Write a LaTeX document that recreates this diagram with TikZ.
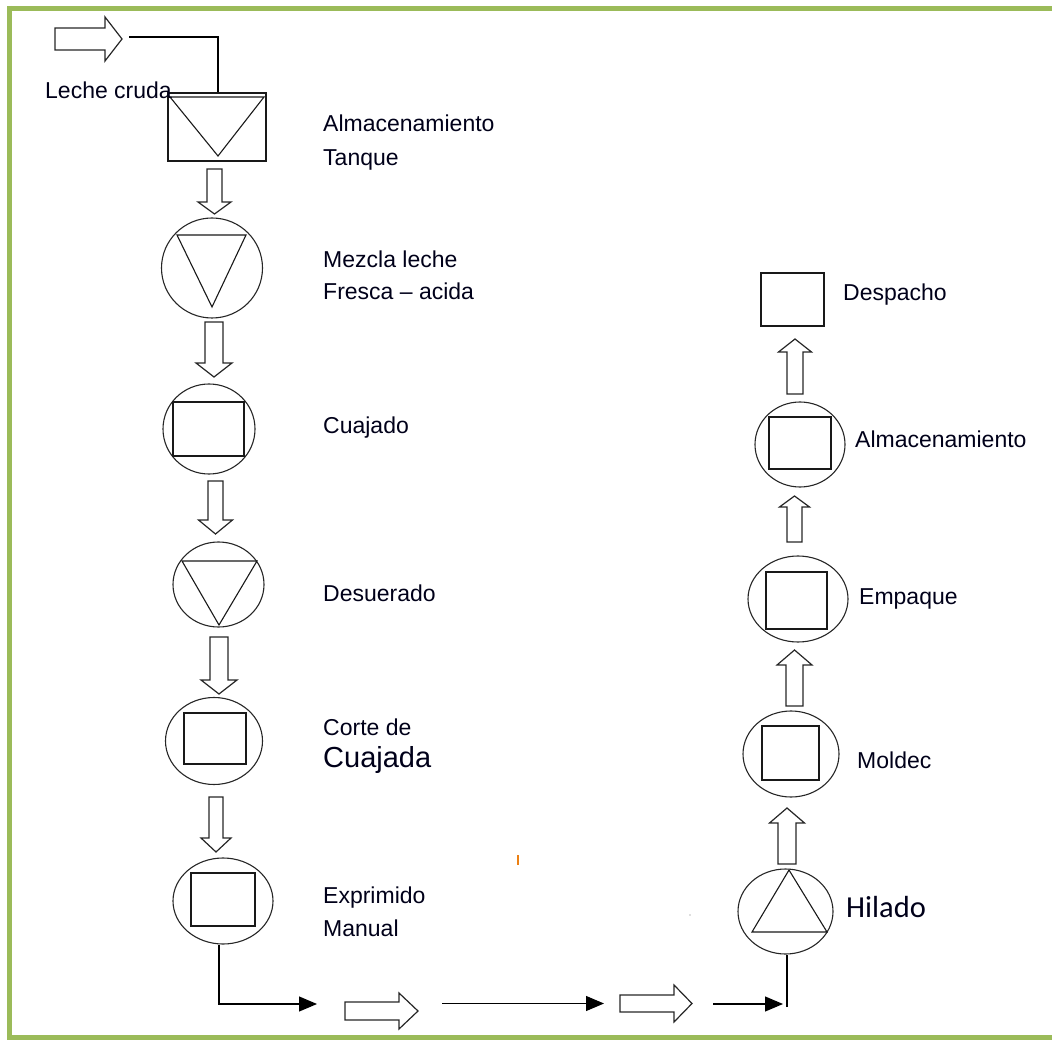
\documentclass[tikz,border=0pt]{standalone}
\usepackage{fontspec}
\setmainfont{Liberation Sans}
\newfontfamily\calib{Carlito}
\usetikzlibrary{shapes.geometric,arrows.meta}
\definecolor{framegreen}{HTML}{9BBB59}
\newcommand\hvarrow[6]{% x, base, headstart, tip, bodyhalf, headhalf
  \draw[harrow] (#1-#5,#2) -- (#1+#5,#2) -- (#1+#5,#3) -- (#1+#6,#3) -- (#1,#4) -- (#1-#6,#3) -- (#1-#5,#3) -- cycle;}
\newcommand\hharrow[6]{% y, base, headstart, tip, bodyhalf, headhalf
  \draw[harrow] (#2,#1-#5) -- (#2,#1+#5) -- (#3,#1+#5) -- (#3,#1+#6) -- (#4,#1) -- (#3,#1-#6) -- (#3,#1-#5) -- cycle;}
\tikzset{
  harrow/.style={draw=black!85, line width=1.2pt, line join=miter},
  oval/.style={ellipse, draw=black!85, line width=1.1pt, inner sep=0pt},
  boxnode/.style={rectangle, draw=black!90, line width=1.1pt, inner sep=0pt},
  inner/.style={draw=black!90, line width=1.1pt},
  lbl/.style={anchor=base west, inner sep=0pt, text=black!90!blue, font=\fontsize{23}{27}\selectfont},
  flow/.style={draw=black, line width=1.1pt},
  flowarr/.style={flow, -{Triangle[length=18pt,width=15pt]}},
  frame/.style={draw=framegreen, line width=5pt}
}
\begin{document}
\begin{tikzpicture}[x=1pt,y=-1pt]
\useasboundingbox (0,0) rectangle (1052,1040);
% frame
\draw[frame] (7,8.5) -- (1052,8.5);
\draw[frame] (9.5,6) -- (9.5,1040);
\draw[frame] (7,1037.5) -- (1052,1037.5);

% ---- left column ----
\node[boxnode, minimum width=98pt, minimum height=68pt] (tank) at (217,127) {};
\draw[inner] (170,97) -- (264,97) -- (218,156) -- cycle;

\node[oval, minimum width=101pt, minimum height=100pt] (mez) at (212,268) {};
\draw[inner] (177,235) -- (246,235) -- (212,307) -- cycle;

\node[oval, minimum width=92pt, minimum height=90pt] (cua) at (209,429) {};
\draw[inner] (173,402) rectangle (244,456);

\node[oval, minimum width=91pt, minimum height=85pt] (des) at (218.5,584.5) {};
\draw[inner] (182,561) -- (257,561) -- (219,625) -- cycle;

\node[oval, minimum width=97pt, minimum height=87pt] (cor) at (214,741) {};
\draw[inner] (184,713) rectangle (246,764);

\node[oval, minimum width=100pt, minimum height=86pt] (exp) at (223,901) {};
\draw[inner] (191,873) rectangle (255,926);

% ---- right column ----
\node[oval, minimum width=95pt, minimum height=85pt] (hil) at (785.5,911.5) {};
\draw[inner] (789,870) -- (827,932) -- (752,932) -- cycle;

\node[oval, minimum width=96pt, minimum height=86pt] (mol) at (791,754) {};
\draw[inner] (762,726) rectangle (819,780);

\node[oval, minimum width=100pt, minimum height=86pt] (emp) at (798,599) {};
\draw[inner] (766,572) rectangle (827,629);

\node[oval, minimum width=90pt, minimum height=85pt] (alm) at (800,444.5) {};
\draw[inner] (769,417) rectangle (831,469);

\node[boxnode, minimum width=63pt, minimum height=53pt] (dsp) at (792.5,299.5) {};

% ---- hollow arrows ----
\hharrow{39}{55}{105}{122}{11}{22}
\hvarrow{214.5}{169}{202}{214}{7.5}{16.5}
\hvarrow{214}{322}{363}{377}{9}{18}
\hvarrow{215.5}{481}{520}{534}{7.5}{17}
\hvarrow{219}{637}{680}{694}{9}{18}
\hvarrow{216}{797}{838}{852}{7}{15}
\hvarrow{787}{864}{823}{808}{9}{17.5}
\hvarrow{794.5}{706}{665}{650}{8.5}{17.5}
\hvarrow{794.5}{542}{507}{496}{7.5}{15}
\hvarrow{795}{394}{352}{339}{8}{16.5}
\hharrow{1011}{345}{399}{418}{9}{18}
\hharrow{1003.5}{620}{674}{692}{8.5}{18.5}

% ---- flow lines ----
\coordinate (in0) at (129,37);
\draw[flow] (in0) -- (218,37) -- (tank.north -| 218,0);
\coordinate (c1) at (219,1004);
\coordinate (c1e) at (317,1004);
\draw[flowarr] (exp.south -| c1) -- (c1) -- (c1e);
\coordinate (c2s) at (442,1003.5);
\coordinate (c2e) at (604,1003.5);
\draw[flowarr] (c2s) -- (c2e);
\coordinate (c3s) at (713,1004);
\coordinate (c3e) at (783,1004);
\draw[flowarr] (c3s) -- (c3e);
\coordinate (c4) at (787,1007);
\draw[flow] (c4) -- (hil.south -| c4);

% ---- labels ----
\node[lbl] (t0) at (45,99) {Leche cruda};
\node[lbl] (t1a) at (323,132) {Almacenamiento};
\node[lbl] (t1b) at (323,166) {Tanque};
\node[lbl] (t2a) at (323,268) {Mezcla leche};
\node[lbl] (t2b) at (323,300) {Fresca – acida};
\node[lbl] (t3) at (323,433) {Cuajado};
\node[lbl] (t4) at (323,601) {Desuerado};
\node[lbl] (t5a) at (323,735) {Corte de};
\node[lbl, font=\fontsize{29}{34}\selectfont] (t5b) at (323,767) {Cuajada};
\node[lbl] (t6a) at (323,903) {Exprimido};
\node[lbl] (t6b) at (323,936) {Manual};
\node[lbl, font=\calib\fontsize{30.5}{36}\selectfont] (t7) at (846,917) {Hilado};
\node[lbl] (t8) at (857,768) {Moldec};
\node[lbl] (t9) at (859,604) {Empaque};
\node[lbl] (t10) at (855,447) {Almacenamiento};
\node[lbl] (t11) at (843,301) {Despacho};

% stray marks
\draw[draw=orange!70!brown, line width=1.3pt] (518,855) -- (518,865);
\fill[gray!50] (690,915) circle (0.9);
\end{tikzpicture}
\end{document}
